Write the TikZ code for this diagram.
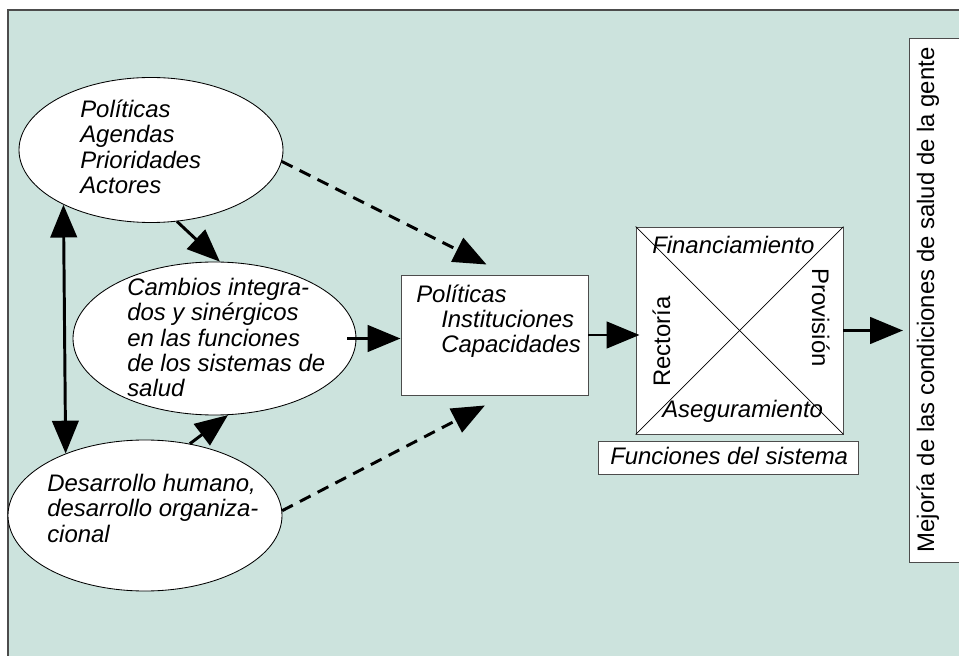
\documentclass[tikz,border=0pt]{standalone}
\usepackage{fontspec}
\setmainfont{Liberation Sans}
\usetikzlibrary{shapes.geometric,arrows.meta,positioning}

\definecolor{fondo}{RGB}{204,227,221}

\tikzstyle{oval} = [ellipse, draw=black, fill=white, line width=0.6pt, inner sep=0pt]
\tikzstyle{process} = [rectangle, draw=black!70, fill=white, line width=0.7pt, inner sep=0pt]
\tikzstyle{texto} = [anchor=base west, align=left, inner sep=0pt, font=\fontsize{17}{18.1}\selectfont\itshape]
\tikzstyle{recto} = [anchor=base, inner sep=0pt, font=\fontsize{17}{18.1}\selectfont]
\tikzstyle{arrow} = [line width=2.1pt, -{Triangle[length=0.82cm,width=0.66cm]}]
\tikzstyle{doublearrow} = [line width=2.1pt, {Triangle[length=0.82cm,width=0.66cm]}-{Triangle[length=0.82cm,width=0.66cm]}]
\tikzstyle{dasharrow} = [arrow, dash pattern=on 0.3cm off 0.2cm]

\begin{document}
\begin{tikzpicture}
	
	\useasboundingbox (0,0) rectangle (23.975,-16.4);
	\clip (0,0) rectangle (23.975,-16.4);
	\draw [fill=fondo, draw=black!70, line width=1.2pt] (0.2,-0.25) rectangle (25,-17);
	
	% ovals
	\node (agenda) [oval, minimum width=6.6cm, minimum height=3.625cm] at (3.775,-3.75) {};
	\node (cambios) [oval, minimum width=7.075cm, minimum height=3.825cm] at (5.3625,-8.4625) {};
	\node (desarrollo) [oval, minimum width=6.85cm, minimum height=3.775cm] at (3.625,-12.8875) {};
	\node (t agenda) [texto] at (2.0,-4.8375) {Políticas\\Agendas\\Prioridades\\Actores};
	\node (t cambios) [texto] at (3.175,-9.925) {Cambios integra-\\dos y sinérgicos\\en las funciones\\de los sistemas de\\salud};
	\node (t desarrollo) [texto] at (1.175,-13.55) {Desarrollo humano,\\desarrollo organiza-\\cional};
	
	% boxes
	\node (politicas) [process, minimum width=4.675cm, minimum height=3cm] at (12.3625,-8.375) {};
	\node (t politicas) [texto] at (10.4,-8.825) {Políticas\\\hspace*{0.625cm}Instituciones\\\hspace*{0.625cm}Capacidades};
	\node (funciones) [process, minimum width=5.175cm, minimum height=5.175cm] at (18.4875,-8.2625) {};
	\draw [line width=0.5pt] (funciones.north west) -- (funciones.south east);
	\draw [line width=0.5pt] (funciones.north east) -- (funciones.south west);
	\node (financ) [texto] at (16.3,-6.35) {Financiamiento};
	\node (aseg) [texto] at (16.55,-10.425) {Aseguramiento};
	\node (rectoria) [recto, rotate=90] at (16.75,-8.5375) {Rectoría};
	\node (provision) [recto, rotate=-90] at (20.3,-7.9375) {Provisión};
	\node (sistema) [process, minimum width=6.5cm, minimum height=0.825cm] at (18.2,-11.4375) {};
	\node (t sistema) [texto] at (15.25,-11.6) {Funciones del sistema};
	\node (gente) [process, minimum width=1.5cm, minimum height=13.1cm, anchor=north west] at (22.725,-0.95) {};
	\node (t gente) [recto, rotate=90] at (23.35,-7.5) {Mejoría de las condiciones de salud de la gente};
	
	%arrow
	\draw [doublearrow] (agenda.212.6) -- (desarrollo.142.5);
	\draw [arrow] (agenda.-70) -- (cambios.86);
	\draw [arrow] (desarrollo.58) -- (cambios.-80);
	\draw [dasharrow] (agenda.-5) -- ([xshift=-0.2cm,yshift=0.25cm]politicas.north);
	\draw [dasharrow] (desarrollo.2) -- ([xshift=-0.24cm,yshift=-0.25cm]politicas.south);
	\draw [arrow] ([xshift=-0.225cm]cambios.east) -- (cambios.east -| politicas.west);
	\draw [arrow, shorten >=-0.1cm] (politicas.east) -- (politicas.east -| funciones.west);
	\draw [arrow, shorten >=0.15cm] (funciones.east) -- (funciones.east -| gente.west);
	
\end{tikzpicture}
\end{document}
